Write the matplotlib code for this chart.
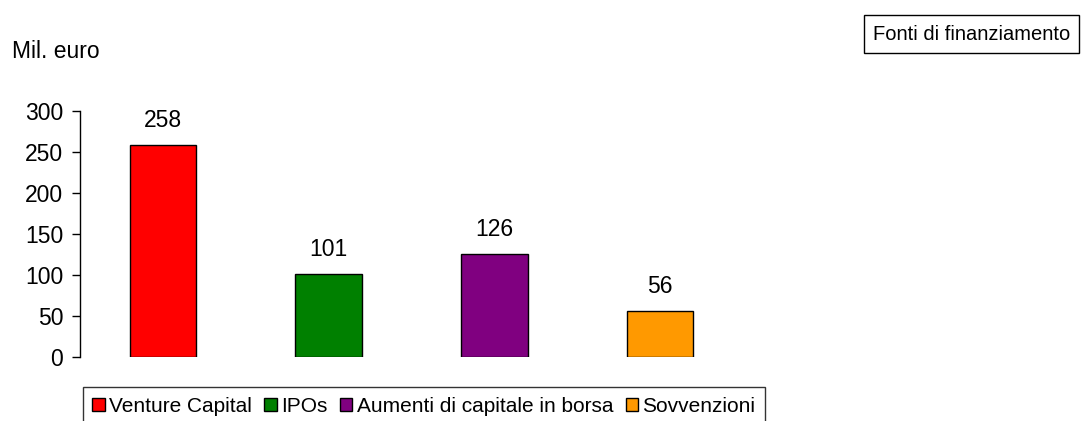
import matplotlib
matplotlib.use("Agg")
import matplotlib.pyplot as plt
from matplotlib.patches import Patch

plt.rcParams['font.family'] = ['Liberation Sans', 'DejaVu Sans']

# data
categories = ["Venture Capital", "IPOs", "Aumenti di capitale in borsa", "Sovvenzioni"]
values = [258, 101, 126, 56]
colors = ["#ff0000", "#008000", "#800080", "#ff9900"]

fig = plt.figure(figsize=(10.81, 4.21), dpi=100)
ax = fig.add_axes([80 / 1081, 1 - 357 / 421, 663 / 1081, 246 / 421])

x = range(len(values))
ax.bar(x, values, width=0.4, color=colors, edgecolor="black", linewidth=1)
for i, v in zip(x, values):
    ax.annotate(str(v), (i, v), xytext=(0, 13), textcoords="offset points",
                ha="center", va="baseline", fontsize=16.5)

ax.set_xlim(-0.5, 3.5)
ax.set_ylim(0, 300)
ax.set_yticks([0, 50, 100, 150, 200, 250, 300])
ax.set_xticks([])
for s in ["top", "right", "bottom"]:
    ax.spines[s].set_visible(False)
ax.spines["left"].set_linewidth(1)
ax.tick_params(axis="y", length=6, width=1, labelsize=16.5, pad=6)

fig.text(12 / 1081, 1 - 51 / 421, "Mil. euro", fontsize=16.5, va="center")
fig.text(873 / 1081, 1 - 34 / 421, "Fonti di finanziamento", fontsize=14.5, va="center",
         bbox=dict(boxstyle="square,pad=0.45", facecolor="white", edgecolor="black", linewidth=1))

handles = [Patch(facecolor=c, edgecolor="black", linewidth=1) for c in colors]
leg = fig.legend(handles, categories, ncol=4, loc="lower left",
                 bbox_to_anchor=(83 / 1081, -0.01), fontsize=15, frameon=True,
                 fancybox=False, handlelength=0.6, handleheight=0.6, handletextpad=0.2,
                 columnspacing=0.6, borderpad=0.45, borderaxespad=0)
leg.get_frame().set_edgecolor("black")
leg.get_frame().set_linewidth(1)

fig.savefig("out.png", dpi=100)
